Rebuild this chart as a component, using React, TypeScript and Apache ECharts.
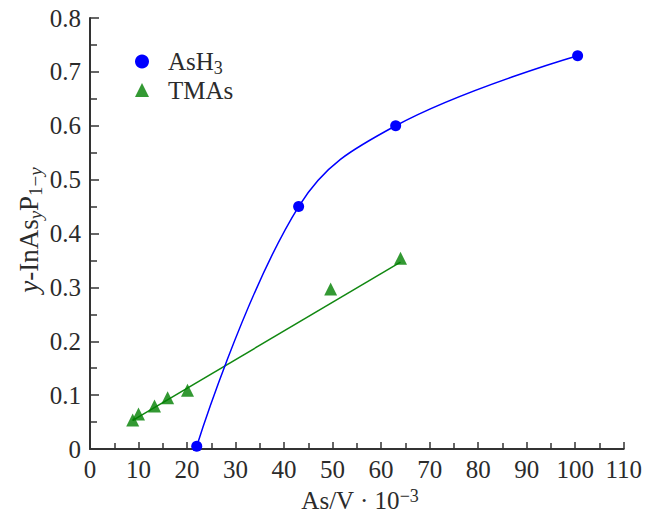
import React, { useEffect, useRef } from "react";
import * as echarts from "echarts";

const ash3X = [22, 43, 63, 100.5];
const ash3Y = [0.005, 0.45, 0.6, 0.73];
const tmasX = [8.8, 10.0, 13.3, 16.0, 20.1, 49.6, 64.0];
const tmasY = [0.054, 0.065, 0.08, 0.095, 0.109, 0.297, 0.354];
const fitX = [8.8, 64.0];
const fitY = [0.053, 0.347];

const FONT = "'Liberation Serif', 'DejaVu Serif', serif";
const TXT = "#2b2b2b";
const FS = 25;

export default function App() {
  const ref = useRef<HTMLDivElement>(null);
  useEffect(() => {
    if (!ref.current) return;
    const chart = echarts.init(ref.current, null, { renderer: "svg" });
    const pair = (xs: number[], ys: number[]) => xs.map((x, i) => [x, ys[i]]);
    chart.setOption({
      animation: false,
      backgroundColor: "#ffffff",
      textStyle: { fontFamily: FONT },
      grid: { left: 90, right: 17, top: 18, bottom: 69 },
      legend: {
        orient: "vertical",
        left: 130,
        top: 44,
        itemGap: 1,
        itemWidth: 14,
        itemHeight: 14,
        data: [
          { name: "AsH3", icon: "circle", itemStyle: { color: "#0000ff" } },
          { name: "TMAs", icon: "triangle", itemStyle: { color: "#008000" } },
        ],
        textStyle: {
          fontFamily: FONT,
          fontSize: FS,
          color: TXT,
          padding: [0, 0, 0, 14],
          rich: {
            sub: { fontFamily: FONT, fontSize: 18, color: TXT, padding: [12, 0, 0, 0] },
            n: { fontFamily: FONT, fontSize: FS, color: TXT },
          },
        },
        formatter: (name: string) =>
          name === "AsH3" ? "{n|AsH}{sub|3}" : "{n|TMAs}",
      },
      xAxis: {
        type: "value",
        min: 0,
        max: 110,
        interval: 10,
        axisLine: { show: true, lineStyle: { color: "#333", width: 2 } },
        axisTick: { show: true, inside: true, length: 7, lineStyle: { color: "#333", width: 1.5 } },
        minorTick: { show: true, splitNumber: 2, length: 6, lineStyle: { color: "#333", width: 1.5 } },
        splitLine: { show: false },
        axisLabel: { fontFamily: FONT, fontSize: FS, color: TXT, margin: 8 },
      },
      yAxis: {
        type: "value",
        min: 0,
        max: 0.8,
        interval: 0.1,
        axisLine: { show: true, lineStyle: { color: "#333", width: 2 } },
        axisTick: { show: true, inside: true, length: 9, lineStyle: { color: "#333", width: 1.5 } },
        minorTick: { show: true, splitNumber: 2, length: 7, lineStyle: { color: "#333", width: 1.5 } },
        splitLine: { show: false },
        axisLabel: {
          fontFamily: FONT,
          fontSize: FS,
          color: TXT,
          margin: 9,
          formatter: (v: number) => (v === 0 ? "0" : v.toFixed(1)),
        },
      },
      graphic: [
        {
          type: "text",
          x: 360,
          y: 500,
          style: {
            text: "{n|As/V · 10}{sup|−3}",
            align: "center",
            verticalAlign: "middle",
            rich: {
              n: { fontFamily: FONT, fontSize: FS, fill: TXT },
              sup: { fontFamily: FONT, fontSize: 18, fill: TXT, padding: [0, 0, 9, 0] },
            },
          },
        },
        {
          type: "text",
          x: 29,
          y: 230,
          rotation: Math.PI / 2,
          style: {
            text: "{i|y}{n|-InAs}{si|y}{n|P}{sub|1−}{si|y}",
            align: "center",
            verticalAlign: "middle",
            rich: {
              i: { fontFamily: FONT, fontSize: 27, fontStyle: "italic", fill: TXT },
              n: { fontFamily: FONT, fontSize: 27, fill: TXT },
              sub: { fontFamily: FONT, fontSize: 19, fill: TXT, padding: [13, 0, 0, 0] },
              si: { fontFamily: FONT, fontSize: 19, fontStyle: "italic", fill: TXT, padding: [13, 0, 0, 0] },
            },
          },
        },
      ],
      series: [
        {
          name: "AsH3",
          type: "line",
          data: pair(ash3X, ash3Y),
          smooth: 0.4,
          symbol: "circle",
          symbolSize: 11,
          showAllSymbol: true,
          lineStyle: { color: "#0000ff", width: 1.5 },
          itemStyle: { color: "#0000ff" },
          z: 3,
        },
        {
          name: "TMAs",
          type: "scatter",
          data: pair(tmasX, tmasY),
          symbol: "triangle",
          symbolSize: 13,
          itemStyle: { color: "#008000" },
          z: 4,
        },
        {
          name: "TMAs fit",
          type: "line",
          data: pair(fitX, fitY),
          symbol: "none",
          lineStyle: { color: "#118811", width: 1.5 },
          z: 2,
        },
      ],
    });
    return () => chart.dispose();
  }, []);
  return (
    <div
      ref={ref}
      style={{ position: "fixed", left: 0, top: 0, width: 645, height: 518 }}
    />
  );
}
